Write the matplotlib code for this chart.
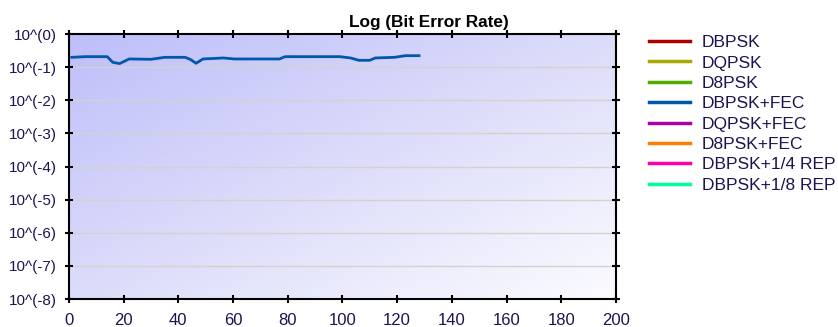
import numpy as np
import matplotlib.pyplot as plt
from matplotlib.colors import LinearSegmentedColormap

plt.rcParams['font.family'] = ['Liberation Sans', 'DejaVu Sans']

# modulation schemes shown in the legend
schemes = ["DBPSK", "DQPSK", "D8PSK", "DBPSK+FEC", "DQPSK+FEC",
           "D8PSK+FEC", "DBPSK+1/4 REP", "DBPSK+1/8 REP"]
colors = ["#aa0000", "#a8a800", "#55aa00", "#0058aa", "#aa00aa",
          "#ff8000", "#ff00aa", "#00ff99"]

# only DBPSK+FEC has samples so far (log10 of BER vs. sample index)
fec_x = [1, 6, 14, 16, 18.5, 22, 30, 35, 42.5, 44.5, 46.5, 49, 56.5,
         60.5, 77, 79, 99, 103, 106, 110, 112, 119, 123, 128]
fec_logber = [-0.70, -0.68, -0.68, -0.85, -0.89, -0.75, -0.76, -0.70,
              -0.70, -0.77, -0.88, -0.75, -0.72, -0.75, -0.75, -0.68,
              -0.68, -0.72, -0.79, -0.79, -0.72, -0.70, -0.65, -0.65]

series = {s: ([], []) for s in schemes}
series["DBPSK+FEC"] = (fec_x, fec_logber)

ytick_vals = list(range(0, -9, -1))
ytick_labels = ["10^(%d)" % v for v in ytick_vals]
xtick_vals = list(range(0, 201, 20))

txtcol = "#1c1450"

fig = plt.figure(figsize=(8.38, 3.27), dpi=100)
ax = fig.add_axes([0.0823, 0.0856, 0.6527, 0.81])

# diagonal lavender-to-white background
gx, gy = np.meshgrid(np.linspace(0, 1, 200), np.linspace(0, 1, 200))
grad = (gx + gy) / 2.0
cmap = LinearSegmentedColormap.from_list("bg", ["#bebefa", "#dcdcfa", "#fbfbff"])
ax.imshow(grad, cmap=cmap, extent=[0, 1, 0, 1], transform=ax.transAxes,
          aspect="auto", zorder=0, origin="upper")

for v in ytick_vals[1:-1]:
    ax.axhline(v, color="#d4d2cc", lw=1.0, zorder=1)

for s, c in zip(schemes, colors):
    x, y = series[s]
    ax.plot(x, y, color=c, lw=2.0, label=s, zorder=3)

ax.set_xlim(0, 200)
ax.set_ylim(-8, 0)
ax.set_xticks(xtick_vals)
ax.set_yticks(ytick_vals)
ax.set_yticklabels(ytick_labels)
ax.tick_params(axis="both", direction="inout", length=6, width=1.5,
               colors="black", labelcolor=txtcol, top=True, right=True)
ax.tick_params(axis="x", labelsize=12, pad=7)
ax.tick_params(axis="y", labelsize=11, pad=6)
for sp in ax.spines.values():
    sp.set_linewidth(1.5)

fig.text(0.512, 0.93, "Log (Bit Error Rate)", ha="center", va="center",
         fontsize=12.4, fontweight="bold", color="black")

leg = fig.legend(loc="upper left", bbox_to_anchor=(0.7745, 0.893), frameon=False,
                 fontsize=12.5, handlelength=2.36, handletextpad=0.69,
                 labelspacing=0.3, borderpad=0, borderaxespad=0)
for t in leg.get_texts():
    t.set_color(txtcol)
for h in leg.get_lines():
    h.set_linewidth(2.5)

fig.savefig("out.png", dpi=100)
